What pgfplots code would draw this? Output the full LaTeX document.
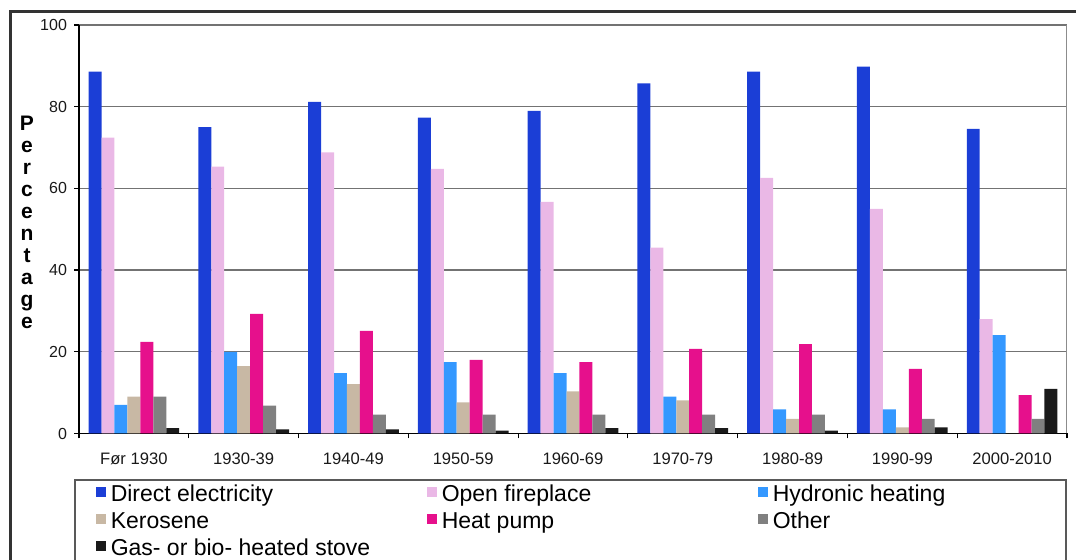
\documentclass[border=0pt]{standalone}
\usepackage{pgfplots}
\pgfplotsset{compat=1.18}
\usepackage{fontspec}
\setmainfont{Liberation Sans}
\definecolor{cDirect}{RGB}{27,62,214}
\definecolor{cOpen}{RGB}{234,184,230}
\definecolor{cHydro}{RGB}{52,152,255}
\definecolor{cKero}{RGB}{200,184,164}
\definecolor{cHeat}{RGB}{230,16,140}
\definecolor{cOther}{RGB}{128,128,128}
\definecolor{cGas}{RGB}{26,26,26}
\begin{document}
\begin{tikzpicture}
\begin{axis}[
  at={(39.5pt,-216.75pt)}, anchor=south west,
  scale only axis, width=494pt, height=204.25pt,
  xmin=-0.5, xmax=8.5, ymin=0, ymax=100,
  ybar=0pt, bar width=0.118,
  axis x line*=bottom, axis y line*=left,
  axis line style={black, line width=0.7pt},
  xtick={0,...,8},
  xticklabels={Før 1930,1930-39,1940-49,1950-59,1960-69,1970-79,1980-89,1990-99,2000-2010},
  minor xtick={-0.5,0.5,...,8.5},
  major x tick style={draw=none},
  minor x tick style={black, line width=0.6pt},
  minor tick length=2.5pt,
  ytick={0,20,...,100},
  major y tick style={black, line width=0.6pt},
  major tick length=2.5pt,
  tick align=outside,
  ymajorgrids,
  grid style={black!55, line width=0.6pt},
  /pgf/number format/assume math mode=true,
  yticklabel style={font=\fontsize{8}{9}\selectfont, text=black!90},
  xticklabel style={font=\fontsize{8.3}{9}\selectfont, text=black!90, yshift=-3.5pt},
  legend columns=3,
  legend cell align=left,
  legend style={at={(0.0105,-0.1138)}, anchor=north west, draw=none, fill=none,
    font=\fontsize{11.5}{13}\selectfont, row sep=2pt,
    nodes={inner sep=0pt, text height=8.5pt, text depth=3pt},
    /tikz/every odd column/.append style={column sep=2.5pt}},
  legend image code/.code={\fill[#1] (0pt,-0.5pt) rectangle (5pt,4.5pt);},
]
\addplot[fill=cDirect, draw=none] coordinates {(0,88.6) (1,75) (2,81.2) (3,77.3) (4,79) (5,85.7) (6,88.6) (7,89.8) (8,74.6)};
\addplot[fill=cOpen, draw=none] coordinates {(0,72.4) (1,65.3) (2,68.8) (3,64.8) (4,56.7) (5,45.5) (6,62.6) (7,55) (8,28)};
\addplot[fill=cHydro, draw=none] coordinates {(0,7) (1,20) (2,14.8) (3,17.5) (4,14.8) (5,9) (6,5.9) (7,5.9) (8,24.1)};
\addplot[fill=cKero, draw=none] coordinates {(0,9) (1,16.5) (2,12.1) (3,7.6) (4,10.3) (5,8.1) (6,3.6) (7,1.5) (8,0)};
\addplot[fill=cHeat, draw=none] coordinates {(0,22.4) (1,29.3) (2,25.1) (3,18) (4,17.5) (5,20.7) (6,21.9) (7,15.8) (8,9.4)};
\addplot[fill=cOther, draw=none] coordinates {(0,9) (1,6.8) (2,4.6) (3,4.6) (4,4.6) (5,4.6) (6,4.6) (7,3.6) (8,3.6)};
\addplot[fill=cGas, draw=none] coordinates {(0,1.3) (1,1) (2,1) (3,0.7) (4,1.3) (5,1.3) (6,0.7) (7,1.5) (8,10.9)};
\addlegendentry{\makebox[158pt][l]{Direct electricity}}
\addlegendentry{\makebox[158pt][l]{Open fireplace}}
\addlegendentry{\makebox[158pt][l]{Hydronic heating}}
\addlegendentry{\makebox[158pt][l]{Kerosene}}
\addlegendentry{\makebox[158pt][l]{Heat pump}}
\addlegendentry{\makebox[158pt][l]{Other}}
\addlegendentry{\makebox[158pt][l]{Gas- or bio- heated stove}}
\draw[black!45, line width=0.6pt] (rel axis cs:1,0) -- (rel axis cs:1,1);
\end{axis}
\begin{scope}[x=0.5pt,y=-0.5pt]
\draw[black!80, line width=1.5pt] (10.5,700) -- (10.5,12) -- (1200,12);
\draw[black!65, line width=0.75pt] (75,480) rectangle (1066,700);
\node[font=\fontsize{10.5}{11}\selectfont\bfseries, align=center, inner sep=0pt] at (27,222) {P\\e\\r\\c\\e\\n\\t\\a\\g\\e};
\end{scope}
\pgfresetboundingbox
\useasboundingbox (0pt,0pt) rectangle (538pt,-280pt);
\end{tikzpicture}
\end{document}
